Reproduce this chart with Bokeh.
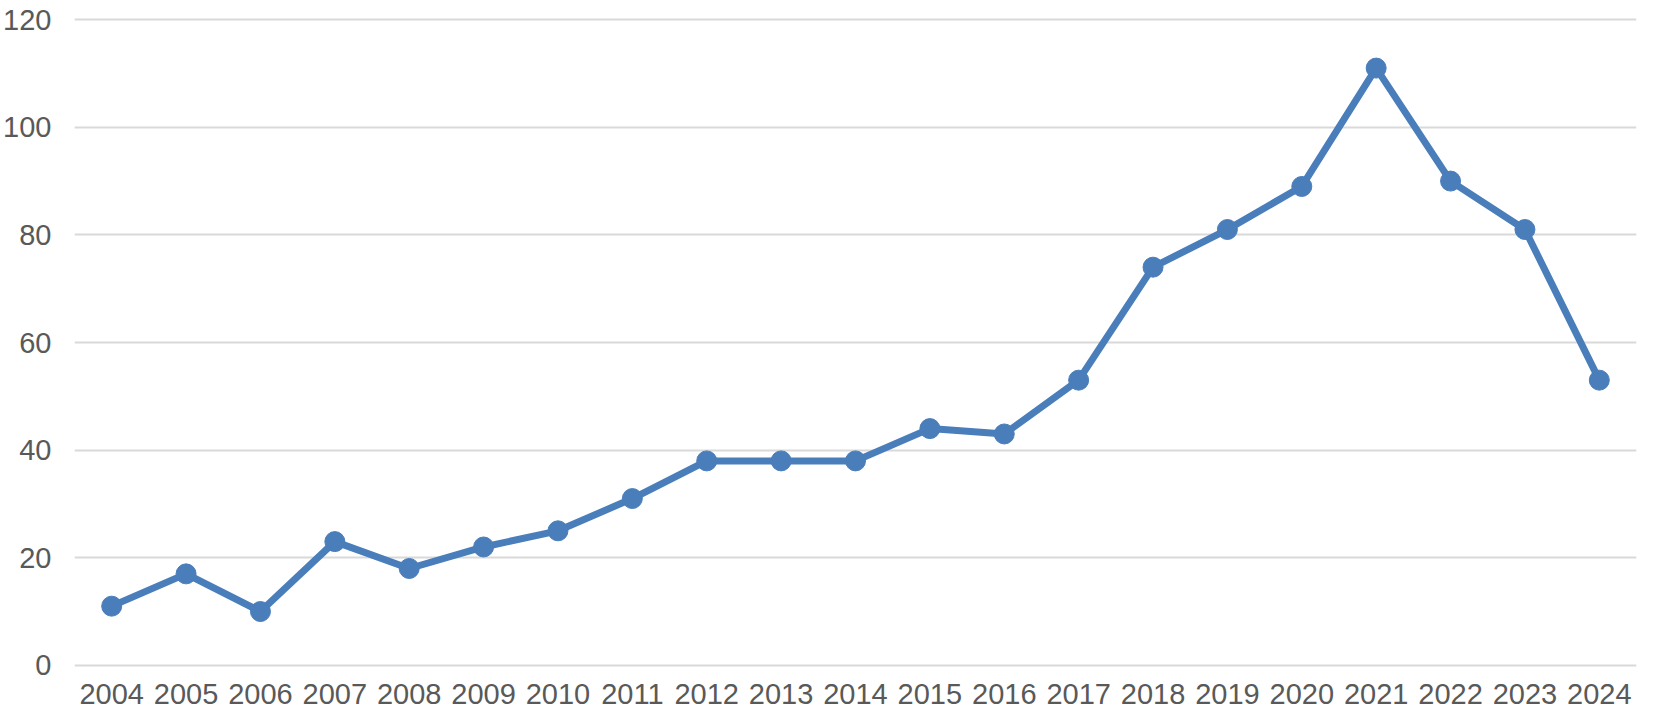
from bokeh.plotting import figure
from bokeh.models import ColumnDataSource, Range1d, FixedTicker
from bokeh.embed import file_html
from bokeh.resources import INLINE

years = [str(y) for y in range(2004, 2025)]
values = [11, 17, 10, 23, 18, 22, 25, 31, 38, 38, 38, 44, 43, 53, 74, 81, 89, 111, 90, 81, 53]
y_ticks = [0, 20, 40, 60, 80, 100, 120]

src = ColumnDataSource(data=dict(year=years, value=values))

p = figure(x_range=years, y_range=Range1d(-0.4, 120.4),
           width=1638, height=712,
           min_border_left=66, min_border_right=2, min_border_top=17, min_border_bottom=45,
           output_backend="svg", toolbar_location=None)

color = "#4a7ebb"
p.line("year", "value", source=src, line_color=color, line_width=7, line_join="round")
p.scatter("year", "value", source=src, size=20, fill_color=color, line_color=color)

p.outline_line_color = None
p.background_fill_color = "white"
p.border_fill_color = "white"

p.xgrid.grid_line_color = None
p.ygrid.grid_line_color = "#d9d9d9"
p.ygrid.grid_line_width = 2
p.yaxis.ticker = FixedTicker(ticks=y_ticks)

for ax in (p.xaxis, p.yaxis):
    ax.axis_line_color = None
    ax.major_tick_line_color = None
    ax.minor_tick_line_color = None
    ax.major_label_text_font = "Liberation Sans"
    ax.major_label_text_font_size = "29px"
    ax.major_label_text_color = "#595959"

p.yaxis.major_label_standoff = 17
p.xaxis.major_label_standoff = 10

open("out.html", "w").write(file_html(p, INLINE))
